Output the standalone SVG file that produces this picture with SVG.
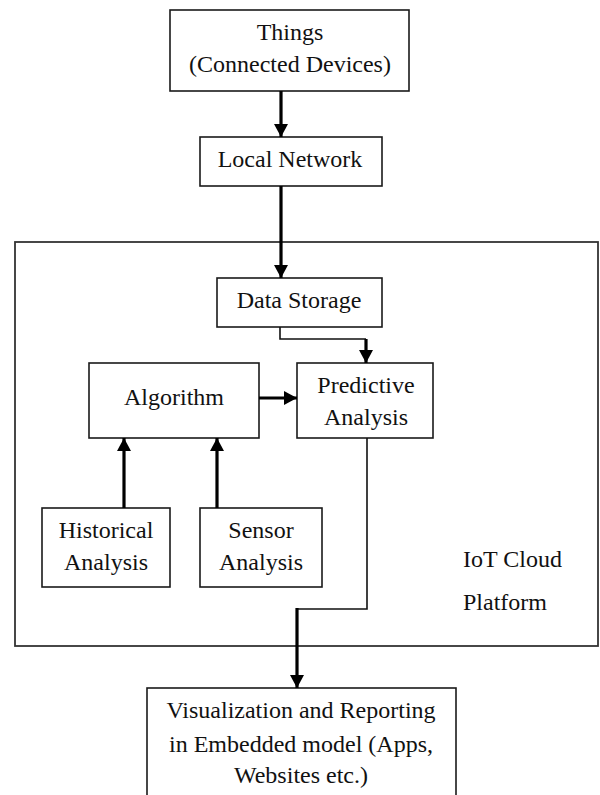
<svg xmlns="http://www.w3.org/2000/svg" width="600" height="795" viewBox="0 0 600 795">
<style>
.box{fill:#fff;stroke:#1a1a1a;stroke-width:1.6}
.cloud{fill:none;stroke:#333;stroke-width:1.8}
.t{font-family:"Liberation Serif","Times New Roman",serif;font-size:24px;fill:#111;text-anchor:middle}
.tl{font-family:"Liberation Serif","Times New Roman",serif;font-size:24px;fill:#111}
.thick{fill:none;stroke:#000;stroke-width:3.2}
.thin{fill:none;stroke:#111;stroke-width:1.6}
</style>
<defs>
<marker id="ah" viewBox="0 0 13 14" refX="13" refY="7" markerWidth="13" markerHeight="14" orient="auto" markerUnits="userSpaceOnUse">
<path d="M0,0 L13,7 L0,14 z" fill="#000"/>
</marker>
</defs>
<g id="cloud">
<rect class="cloud" x="15" y="242" width="583" height="404"/>
<text class="tl" x="463" y="567">IoT Cloud</text>
<text class="tl" x="463" y="610">Platform</text>
</g>
<g id="things">
<rect class="box" x="170" y="10" width="239" height="81"/>
<text class="t" x="290" y="40">Things</text>
<text class="t" x="290" y="72">(Connected Devices)</text>
</g>
<g id="local-network">
<rect class="box" x="200" y="137" width="182" height="49"/>
<text class="t" x="290" y="167">Local Network</text>
</g>
<g id="data-storage">
<rect class="box" x="217" y="278" width="165" height="49"/>
<text class="t" x="299" y="308">Data Storage</text>
</g>
<g id="algorithm">
<rect class="box" x="89" y="363" width="170" height="75"/>
<text class="t" x="174" y="405">Algorithm</text>
</g>
<g id="predictive">
<rect class="box" x="297" y="363" width="136" height="75"/>
<text class="t" x="366" y="393">Predictive</text>
<text class="t" x="366" y="425">Analysis</text>
</g>
<g id="historical">
<rect class="box" x="42" y="508" width="128" height="79"/>
<text class="t" x="106" y="538">Historical</text>
<text class="t" x="106" y="570">Analysis</text>
</g>
<g id="sensor">
<rect class="box" x="200" y="508" width="122" height="79"/>
<text class="t" x="261" y="538">Sensor</text>
<text class="t" x="261" y="570">Analysis</text>
</g>
<g id="visualization">
<rect class="box" x="147" y="688" width="309" height="120"/>
<text class="t" x="301" y="718">Visualization and Reporting</text>
<text class="t" x="301" y="752">in Embedded model (Apps,</text>
<text class="t" x="301" y="783">Websites etc.)</text>
</g>
<g id="connectors">
<path class="thick" d="M281,91 V137" marker-end="url(#ah)"/>
<path class="thick" d="M281,186 V278" marker-end="url(#ah)"/>
<path class="thin" d="M280,327 V339 H366"/>
<path class="thick" d="M366,339 V363" marker-end="url(#ah)"/>
<path class="thick" d="M259,398 H297" marker-end="url(#ah)"/>
<path class="thick" d="M124,508 V438" marker-end="url(#ah)"/>
<path class="thick" d="M217,508 V438" marker-end="url(#ah)"/>
<path class="thin" d="M367,438 V609 H297"/>
<path class="thick" d="M297,608 V688" marker-end="url(#ah)"/>
</g>
</svg>
